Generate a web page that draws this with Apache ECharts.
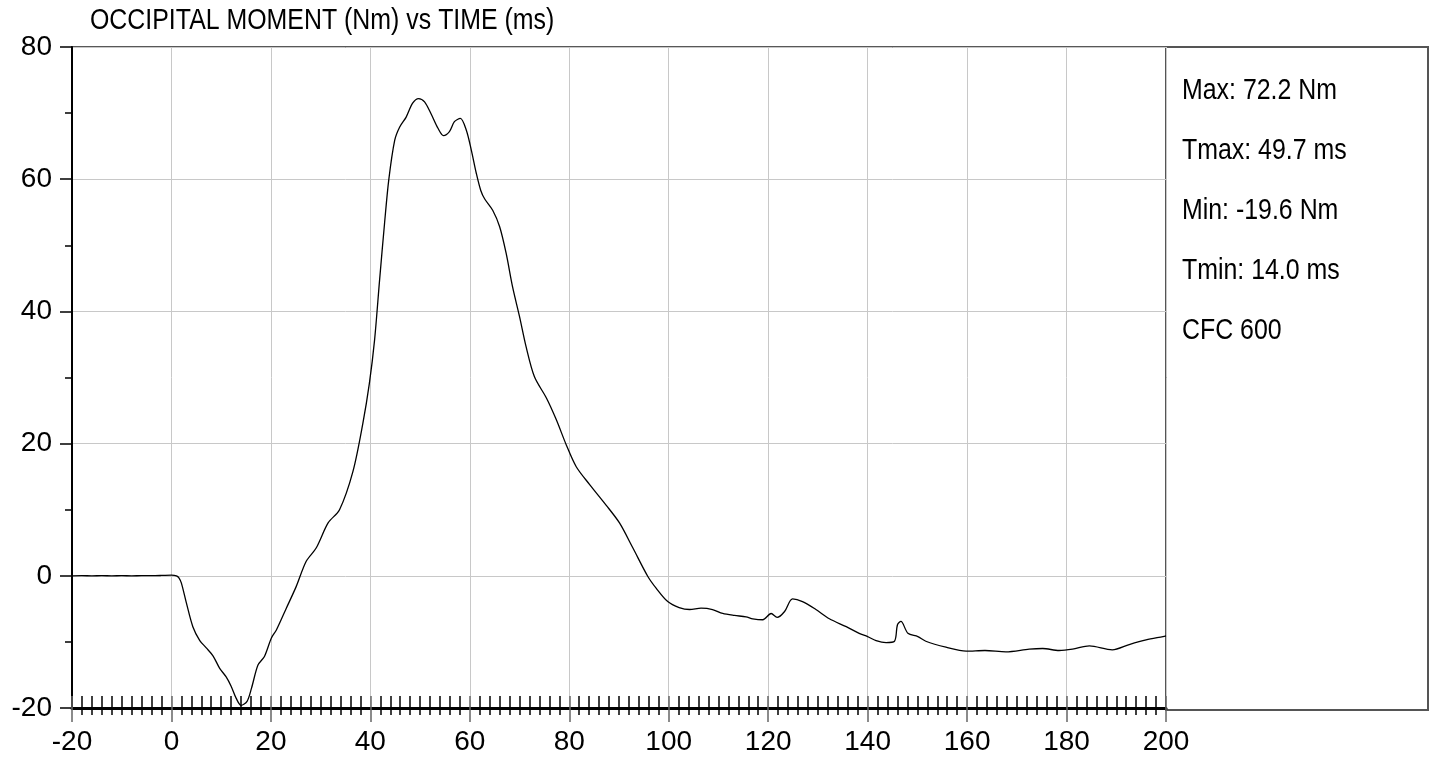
<!DOCTYPE html>
<html>
<head>
<meta charset="utf-8">
<script src="https://cdn.jsdelivr.net/npm/echarts@6/dist/echarts.min.js"></script>
<style>
html,body{margin:0;padding:0;background:#fff;}
#chart{width:1436px;height:759px;}
</style>
</head>
<body>
<div id="chart"></div>
<script>
var chartTitle = 'OCCIPITAL MOMENT (Nm) vs TIME (ms)';
var statLines = ['Max: 72.2 Nm', 'Tmax: 49.7 ms', 'Min: -19.6 Nm', 'Tmin: 14.0 ms', 'CFC 600'];

var timeMs = [-20,-18,-16,-14,-12,-10,-8,-6,-4,-2,0,1,1.5,2,3,4.3,5.7,7,8.35,9.7,11,12,13,14,15.2,16.1,17.4,18.7,20.1,21.1,23.1,25.1,27.1,29.1,31.5,33.8,36.5,38.5,39.8,40.85,41.85,42.85,43.7,44.9,45.9,47.2,48.5,49.7,50.9,52.2,53.6,54.7,55.9,56.9,58.1,59.3,60.3,61.3,62.2,63.0,64.6,66,67.3,68.6,70,71.3,73,75.4,77.4,79.4,81.4,84.1,87.4,90.1,92.8,95.8,97.5,99.8,102.1,104.2,106.5,108.8,110.85,113.2,115.55,116.9,118.9,120.6,121.8,123.3,124.9,126.9,129.6,132.3,135.7,138.3,140,141.7,143.7,145.4,146,146.7,148.1,150.1,151.7,155.75,159.8,163.6,167.8,172.5,175.2,178.5,181.2,184.6,189.2,192.6,196,199.4,200];
var momentNm = [0.0,0.02,0.0,0.02,0.0,0.02,0.0,0.02,0.02,0.05,0.1,0.0,-0.3,-1.1,-4.1,-7.7,-9.8,-10.9,-12.1,-14.0,-15.3,-16.7,-18.5,-19.6,-19.0,-17.0,-13.5,-12.2,-9.4,-8.2,-4.9,-1.6,2.2,4.2,8.0,10.0,15.8,23.1,29.1,35.7,44.7,53.3,59.9,65.9,67.9,69.4,71.5,72.2,71.7,69.9,67.7,66.6,67.2,68.7,69.2,67.4,64.4,60.9,58.3,57.0,55.3,52.8,48.8,43.7,39.2,34.7,30.1,26.9,23.6,19.8,16.5,13.8,10.7,8.0,4.2,-0.1,-1.9,-3.9,-4.8,-5.1,-4.9,-5.1,-5.7,-6.0,-6.2,-6.5,-6.65,-5.7,-6.3,-5.4,-3.5,-3.9,-5.1,-6.5,-7.7,-8.7,-9.2,-9.8,-10.1,-9.9,-7.4,-6.9,-8.7,-9.2,-9.9,-10.8,-11.4,-11.3,-11.5,-11.1,-11.0,-11.3,-11.1,-10.6,-11.2,-10.4,-9.7,-9.2,-9.1];

var xMin = -20, xMax = 200, xStep = 20;
var yMin = -20, yMax = 80, yStep = 20;

var REG = "'Liberation Sans', Arial, sans-serif";
var NARROW_SCALE = 0.83;

var seriesData = timeMs.map(function (t, i) { return [t, momentNm[i]]; });

var chart = echarts.init(document.getElementById('chart'), null, {renderer: 'canvas'});

var graphics = [{
  type: 'rect', z: 0,
  shape: {x: 1166, y: 47, width: 262, height: 663},
  style: {fill: '#fff', stroke: '#555', lineWidth: 2}
}, {
  type: 'text', z: 10, x: 90, y: 21, scaleX: NARROW_SCALE,
  style: {text: chartTitle, fill: '#000', font: '30px ' + REG, textVerticalAlign: 'middle'}
}];
statLines.forEach(function (s, i) {
  graphics.push({
    type: 'text', z: 10, x: 1182, y: 91 + i * 60, scaleX: NARROW_SCALE,
    style: {text: s, fill: '#000', font: '30px ' + REG, textVerticalAlign: 'middle'}
  });
});

chart.setOption({
  animation: false,
  backgroundColor: '#fff',
  graphic: graphics,
  grid: {left: 72, top: 47, width: 1094, height: 661, show: true, borderColor: '#222', borderWidth: 1.5, backgroundColor: 'transparent'},
  xAxis: [{
    type: 'value', min: xMin, max: xMax, interval: xStep, position: 'bottom',
    axisLine: {onZero: false, lineStyle: {color: '#000', width: 3}},
    axisTick: {show: true, inside: false, length: 14, lineStyle: {color: '#666', width: 1.5}},
    minorTick: {show: true, splitNumber: 10, length: 7, lineStyle: {color: '#000', width: 1.5}},
    axisLabel: {color: '#000', fontFamily: REG, fontSize: 28, margin: 20},
    splitLine: {show: true, lineStyle: {color: '#c8c8c8', width: 1}}
  }, {
    type: 'value', min: xMin, max: xMax, interval: xStep, position: 'bottom',
    axisLine: {show: false, onZero: false},
    axisTick: {show: true, inside: true, length: 12, lineStyle: {color: '#666', width: 1.5}},
    minorTick: {show: true, splitNumber: 10, length: 12, lineStyle: {color: '#000', width: 1.5}},
    axisLabel: {show: false},
    splitLine: {show: false}
  }],
  yAxis: [{
    type: 'value', min: yMin, max: yMax, interval: yStep, position: 'left',
    axisLine: {onZero: false, lineStyle: {color: '#000', width: 2}},
    axisTick: {show: true, inside: false, length: 12, lineStyle: {color: '#000', width: 1.5}},
    minorTick: {show: true, splitNumber: 2, length: 6, lineStyle: {color: '#000', width: 1.5}},
    axisLabel: {color: '#000', fontFamily: REG, fontSize: 28, margin: 20},
    splitLine: {show: true, lineStyle: {color: '#c8c8c8', width: 1}}
  }, {
    type: 'value', min: yMin, max: yMax, interval: yStep, position: 'left',
    axisLine: {show: false, onZero: false},
    axisTick: {show: false},
    minorTick: {show: true, splitNumber: 2, length: 7, lineStyle: {color: '#000', width: 1.5}},
    axisLabel: {show: false},
    splitLine: {show: false}
  }],
  series: [{
    type: 'line', xAxisIndex: 0, yAxisIndex: 0,
    data: seriesData, showSymbol: false, smooth: 0.3,
    lineStyle: {color: '#000', width: 1.3}
  }]
});
</script>
</body>
</html>
